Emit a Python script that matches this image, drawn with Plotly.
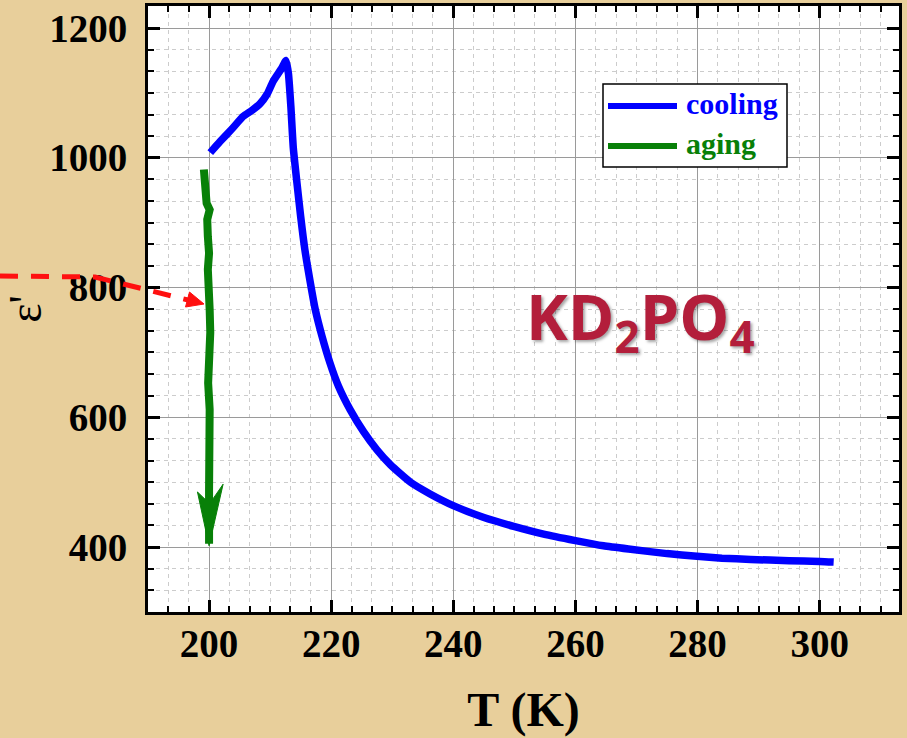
import plotly.graph_objects as go

# ---------------- data ----------------
cool_T = [200.2, 201.8, 203.7, 205.6, 207.0, 208.4, 209.5, 210.5, 211.9, 212.6,
          213.0, 213.4, 213.8, 214.4, 215.0, 215.7, 216.6, 217.4, 218.5, 219.8,
          221.2, 223.1, 225.3, 227.5, 229.7, 233.0, 236.2, 240.0, 244.9, 249.9,
          254.8, 260.0, 264.6, 268.7, 275.0, 279.9, 284.0, 288.7, 295.0, 300.0, 302.3]
cool_eps = [1008, 1025, 1044, 1064, 1073, 1084, 1098, 1118, 1138, 1150,
            1130, 1079, 1015, 961, 910, 858, 807, 766, 725, 684,
            648, 612, 578, 550, 527, 500, 482, 464, 446, 432,
            420, 410, 402, 397, 390, 386, 383, 381, 379, 378, 377]

aging_T = [199.15, 199.3, 199.6, 200.1, 199.7, 199.8, 200.0, 199.8, 200.0, 200.1,
           200.2, 200.1, 199.85, 200.1, 200.0, 199.85, 200.0, 200.0]
aging_eps = [982, 956, 930, 920, 905, 879, 853, 828, 802, 766,
             731, 694, 653, 612, 571, 535, 489, 405]

x_ticks = [200, 220, 240, 260, 280, 300]
y_ticks = [400, 600, 800, 1000, 1200]

# ---------------- layout geometry ----------------
W, H = 907, 738
ML, MR, MT, MB = 148, 8, 6, 126
PW, PH = W - ML - MR, H - MT - MB


def px(x):
    return (x - ML) / PW


def py(y):
    return (H - MB - y) / PH


BLUE = "#0000FF"
GREEN = "#088008"
RED = "#FF1010"
SERIF = "Liberation Serif"

fig = go.Figure()
fig.add_trace(go.Scatter(x=cool_T, y=cool_eps, mode="lines", name="cooling",
                         line=dict(color=BLUE, width=7.5, shape="spline", smoothing=0.5),
                         showlegend=False))
fig.add_trace(go.Scatter(x=aging_T, y=aging_eps, mode="lines", name="aging",
                         line=dict(color=GREEN, width=8),
                         showlegend=False))

# green arrow head at the end of the aging trace
tx, ty = aging_T[-1], aging_eps[-1]
head = (f"M {tx},{ty - 3} L {tx - 1.9},{ty + 80} L {tx + 0.1},{ty + 62} "
        f"L {tx + 2.3},{ty + 92} Z")
shapes = [dict(type="path", path=head, xref="x", yref="y",
               fillcolor=GREEN, line=dict(color=GREEN, width=1))]

# red dashed pointer arrow (decoration, paper coordinates)
shapes.append(dict(type="path", xref="paper", yref="paper", layer="above",
                   path=f"M {px(0)},{py(276)} L {px(95)},{py(277)} L {px(188)},{py(300)}",
                   line=dict(color=RED, width=5, dash="18px,13px")))
shapes.append(dict(type="path", xref="paper", yref="paper", layer="above",
                   path=(f"M {px(204)},{py(304)} L {px(185.5)},{py(307)} "
                         f"L {px(189.5)},{py(292)} Z"),
                   fillcolor=RED, line=dict(color=RED, width=1)))

# legend box (drawn manually to match the long line samples)
shapes.append(dict(type="rect", xref="paper", yref="paper", layer="above",
                   x0=px(603), x1=px(787), y0=py(167), y1=py(84),
                   fillcolor="white", line=dict(color="black", width=1.5)))
shapes.append(dict(type="line", xref="paper", yref="paper", layer="above",
                   x0=px(608), x1=px(677), y0=py(106), y1=py(106),
                   line=dict(color=BLUE, width=6)))
shapes.append(dict(type="line", xref="paper", yref="paper", layer="above",
                   x0=px(608), x1=px(677), y0=py(146), y1=py(146),
                   line=dict(color=GREEN, width=6)))

annotations = [
    dict(text="cooling", xref="paper", yref="paper", x=px(684), y=py(104),
         xanchor="left", yanchor="middle", showarrow=False,
         font=dict(family=SERIF, size=30, color=BLUE, weight="bold")),
    dict(text="aging", xref="paper", yref="paper", x=px(684), y=py(143),
         xanchor="left", yanchor="middle", showarrow=False,
         font=dict(family=SERIF, size=30, color=GREEN, weight="bold")),
    dict(text="KD<sub>2</sub>PO<sub>4</sub>", xref="paper", yref="paper",
         x=px(524), y=py(320), xanchor="left", yanchor="middle", showarrow=False,
         font=dict(family="Open Sans", size=63, color="#B31E3B", weight="bold",
                   shadow="2px 2px 3px rgba(0,0,0,0.35)")),
]

axis_common = dict(
    showline=True, linecolor="black", linewidth=3, mirror="allticks",
    ticks="inside", ticklen=12, tickwidth=2.5, tickcolor="black",
    showgrid=True, gridcolor="#9a9a9a", gridwidth=1.2, zeroline=False,
    tickfont=dict(family=SERIF, size=39, color="black", weight="bold"),
)

fig.update_xaxes(range=[190, 313], tickvals=x_ticks, ticklabelstandoff=-5,
                 minor=dict(dtick=20 / 6, tick0=200, ticks="inside", ticklen=6,
                            tickwidth=2, tickcolor="black", showgrid=True,
                            gridcolor="#cccccc", griddash="4px,4px", gridwidth=1),
                 title=dict(text="T (K)", standoff=29,
                            font=dict(family=SERIF, size=48, color="black", weight="bold")),
                 **axis_common)
fig.update_yaxes(range=[300, 1234], tickvals=y_ticks, ticklabelstandoff=10,
                 minor=dict(dtick=200 / 6, tick0=400, ticks="inside", ticklen=6,
                            tickwidth=2, tickcolor="black", showgrid=True,
                            gridcolor="#cccccc", griddash="4px,4px", gridwidth=1),
                 title=dict(text="ε'", standoff=14,
                            font=dict(family=SERIF, size=46, color="black")),
                 **axis_common)

fig.update_layout(
    width=W, height=H, template="none",
    margin=dict(l=ML, r=MR, t=MT, b=MB, autoexpand=False),
    paper_bgcolor="#E8CF9B", plot_bgcolor="white",
    shapes=shapes, annotations=annotations, showlegend=False,
)

fig.write_html("out.html", config={"displayModeBar": False},
               post_script="document.body.style.margin='0';document.body.style.padding='0';")
